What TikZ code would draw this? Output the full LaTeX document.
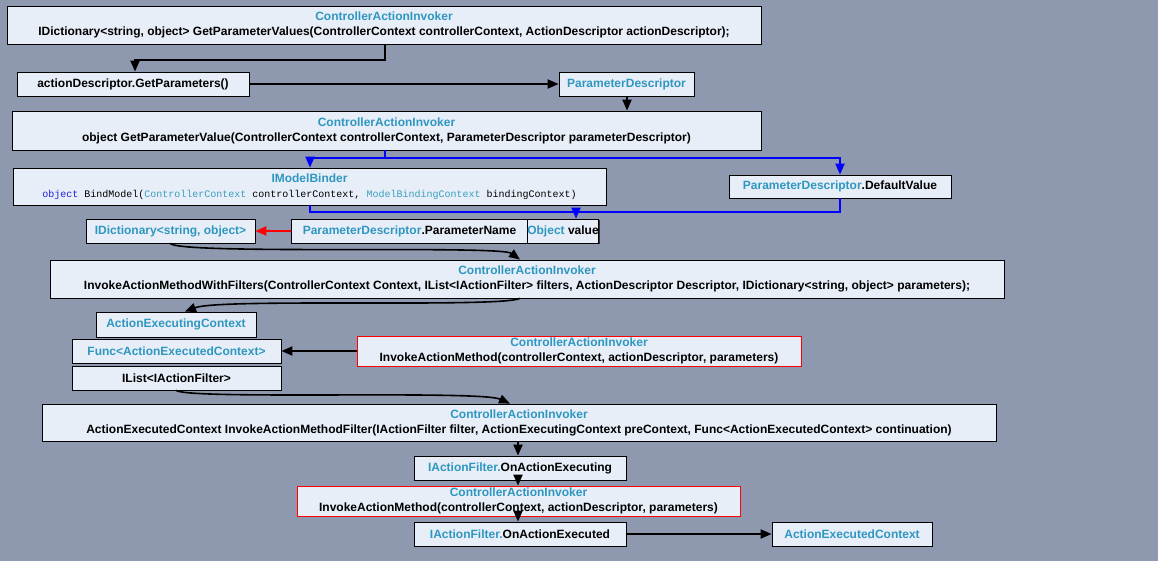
\documentclass[tikz,border=0pt]{standalone}
\usepackage{fontspec}
\setmainfont{Liberation Sans}
\newfontfamily\monof{Liberation Mono}
\usetikzlibrary{arrows.meta,shadows}
\definecolor{bg}{HTML}{8E98AE}
\definecolor{boxf}{HTML}{E8EEF8}
\definecolor{cy}{HTML}{2E97C0}
\definecolor{kw}{HTML}{2020E0}
\definecolor{lb}{HTML}{3A9FBF}
\tikzset{
 bx/.style={draw=black,fill=boxf,line width=0.8pt,inner sep=0pt,align=center,font=\bfseries\fontsize{12}{15}\selectfont,
   drop shadow={shadow xshift=1.2pt,shadow yshift=-1.2pt,fill=black!80,opacity=1}},
 rbx/.style={bx,draw=red},
 ar/.style={line width=2pt,-{Triangle[length=11pt,width=9pt]}},
 bar/.style={ar,draw=blue,blue},
 rar/.style={ar,draw=red,red}
}
\newcommand{\cb}[1]{\textcolor{cy}{#1}}
\newcommand{\bxn}[7][bx]{%
 \node[#1,minimum width={#5-#3},minimum height={#6-#4}] (#2) at ({(#3+#5)/2},{-(#4+#6)/2}) {#7};}
\begin{document}
\begin{tikzpicture}[x=1pt,y=1pt]
\fill[bg] (0,0) rectangle (1158,-561);
\useasboundingbox (0,0) rectangle (1158,-561);
\bxn{top}{7}{6}{761}{44}{\cb{ControllerActionInvoker}\\IDictionary<string, object> GetParameterValues(ControllerContext controllerContext, ActionDescriptor actionDescriptor);}
\bxn{gp}{17}{72}{249}{96}{actionDescriptor.GetParameters()}
\bxn{pd}{559}{72}{694}{96}{\cb{ParameterDescriptor}}
\bxn{gpv}{12}{111}{761}{150}{\cb{ControllerActionInvoker}\\object GetParameterValue(ControllerContext controllerContext, ParameterDescriptor parameterDescriptor)}
\bxn{mb}{13}{168}{606}{205}{\cb{IModelBinder}\\{\mdseries\monof\fontsize{10}{12}\selectfont\textcolor{kw}{object} BindModel(\textcolor{lb}{ControllerContext} controllerContext, \textcolor{lb}{ModelBindingContext} bindingContext)}}
\bxn{dv}{729}{175}{951}{198}{\cb{ParameterDescriptor}.DefaultValue}
\bxn{dict}{86}{219}{255}{243}{\cb{IDictionary<string, object>}}
\bxn{pn}{291}{219}{528}{243}{\cb{ParameterDescriptor}.ParameterName}
\bxn{ov}{528}{219}{598}{243}{\cb{Object} value}
\bxn{iawf}{50}{260}{1004}{298}{\cb{ControllerActionInvoker}\\InvokeActionMethodWithFilters(ControllerContext Context, IList<IActionFilter> filters, ActionDescriptor Descriptor, IDictionary<string, object> parameters);}
\bxn{aec}{96}{312}{256}{337}{\cb{ActionExecutingContext}}
\bxn{func}{72}{339}{281}{363}{\cb{Func<ActionExecutedContext>}}
\bxn[rbx]{iam1}{357}{336}{801}{366}{\cb{ControllerActionInvoker}\\InvokeActionMethod(controllerContext, actionDescriptor, parameters)}
\bxn{ilist}{72}{366}{281}{390}{IList<IActionFilter>}
\bxn{iamf}{42}{404}{996}{441}{\cb{ControllerActionInvoker}\\ActionExecutedContext InvokeActionMethodFilter(IActionFilter filter, ActionExecutingContext preContext, Func<ActionExecutedContext> continuation)}
\bxn{oae}{414}{456}{626}{480}{\cb{IActionFilter.}OnActionExecuting}
\bxn[rbx]{iam2}{297}{486}{740}{516}{\cb{ControllerActionInvoker}\\InvokeActionMethod(controllerContext, actionDescriptor, parameters)}
\bxn{oaed}{414}{522}{626}{546}{\cb{IActionFilter.}OnActionExecuted}
\bxn{aecx}{772}{522}{932}{546}{\cb{ActionExecutedContext}}
% connectors
\draw[ar] (top.south -| 385,0) |- (135,-60) -- (gp.north -| 135,0);
\draw[ar] (gp.east) -- (pd.west);
\draw[ar] (pd.south -| 627,0) -- (gpv.north -| 627,0);
\coordinate (b1) at (385,-158);
\draw[line width=2pt,blue] (gpv.south -| 385,0) -- (b1);
\draw[bar] (b1) -| (mb.north -| 310,0);
\draw[bar] (b1) -| (dv.north -| 840,0);
\coordinate (b2) at (576,-212);
\draw[line width=2pt,blue] (mb.south -| 310,0) |- (b2) -| (dv.south -| 840,0);
\draw[bar] (b2) -- (ov.north -| 576,0);
\draw[rar] (pn.west) -- (dict.east);
\draw[ar,line width=1.6pt] (dict.south -| 170,0) .. controls (180,-255) and (500,-245) .. (iawf.north -| 520,0);
\draw[ar,line width=1.6pt] (iawf.south -| 520,0) .. controls (500,-308) and (220,-298) .. (aec.north -| 185,0);
\draw[ar] (iam1.west) -- (func.east);
\draw[ar,line width=1.6pt] (ilist.south -| 176,0) .. controls (190,-400) and (480,-390) .. (iamf.north -| 510,0);
\draw[ar] (iamf.south -| 518,0) -- (oae.north -| 518,0);
\draw[ar] (oae.south -| 518,0) -- (iam2.north -| 518,0);
\draw[ar] (iam2.south -| 518,0) -- (oaed.north -| 518,0);
\draw[ar] (oaed.east) -- (aecx.west);
\end{tikzpicture}
\end{document}
